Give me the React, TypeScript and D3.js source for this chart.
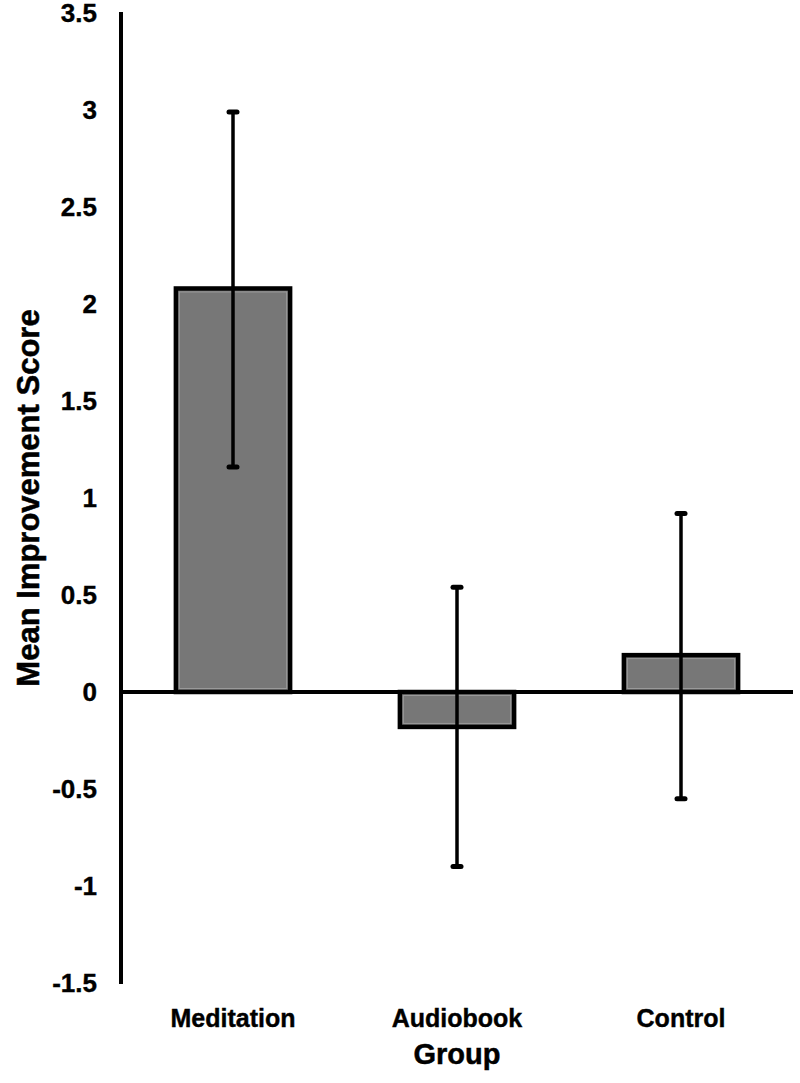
import React, { useEffect, useRef } from "react";
import * as d3 from "d3";

const groups = ["Meditation", "Audiobook", "Control"];
const means = [2.08, -0.18, 0.19];
const errTop = [2.99, 0.54, 0.92];
const errBottom = [1.16, -0.9, -0.55];
const yTicks = [3.5, 3, 2.5, 2, 1.5, 1, 0.5, 0, -0.5, -1, -1.5];

const App = () => {
  const chartRef = useRef<SVGSVGElement | null>(null);

  useEffect(() => {
    const width = 800;
    const height = 1083;
    const font = "'Liberation Sans', Arial, sans-serif";

    const svg = d3.select(chartRef.current);
    svg.selectAll("*").remove();

    // scales
    const x = d3
      .scaleBand()
      .domain(groups)
      .range([121, 793])
      .paddingInner(0.49)
      .paddingOuter(0.245);

    const y = d3.scaleLinear().domain([-1.5, 3.5]).range([983, 13]);

    // y axis line
    svg
      .append("line")
      .attr("x1", 121)
      .attr("x2", 121)
      .attr("y1", y(3.5) - 1)
      .attr("y2", y(-1.5) + 1)
      .attr("stroke", "#000")
      .attr("stroke-width", 4);

    // tick labels
    svg
      .append("g")
      .selectAll("text")
      .data(yTicks)
      .join("text")
      .attr("x", 97)
      .attr("y", (d) => y(d))
      .attr("dy", "0.36em")
      .attr("text-anchor", "end")
      .attr("font-family", font)
      .attr("font-weight", "bold")
      .attr("font-size", 26)
      .attr("stroke", "#000")
      .attr("stroke-width", 0.4)
      .text((d) => String(d));

    const data = groups.map((g, i) => ({
      g,
      v: means[i],
      hi: errTop[i],
      lo: errBottom[i],
    }));

    // bars
    svg
      .append("g")
      .selectAll("rect")
      .data(data)
      .join("rect")
      .attr("x", (d) => x(d.g)!)
      .attr("y", (d) => y(Math.max(0, d.v)))
      .attr("width", x.bandwidth())
      .attr("height", (d) => Math.abs(y(d.v) - y(0)))
      .attr("fill", "#777")
      .attr("stroke", "#000")
      .attr("stroke-width", 4.5);

    // inner light edge
    svg
      .append("g")
      .selectAll("rect")
      .data(data)
      .join("rect")
      .attr("x", (d) => x(d.g)! + 3.5)
      .attr("y", (d) => y(Math.max(0, d.v)) + 3.5)
      .attr("width", x.bandwidth() - 7)
      .attr("height", (d) => Math.max(0, Math.abs(y(d.v) - y(0)) - 7))
      .attr("fill", "none")
      .attr("stroke", "#9a9a9a")
      .attr("stroke-width", 1);

    // zero line
    svg
      .append("line")
      .attr("x1", 121)
      .attr("x2", 793)
      .attr("y1", y(0))
      .attr("y2", y(0))
      .attr("stroke", "#000")
      .attr("stroke-width", 4);

    // error bars
    const err = svg.append("g");
    err
      .selectAll("line.stem")
      .data(data)
      .join("line")
      .attr("class", "stem")
      .attr("x1", (d) => x(d.g)! + x.bandwidth() / 2)
      .attr("x2", (d) => x(d.g)! + x.bandwidth() / 2)
      .attr("y1", (d) => y(d.hi))
      .attr("y2", (d) => y(d.lo))
      .attr("stroke", "#000")
      .attr("stroke-width", 3.5);

    const caps = data.flatMap((d) => [
      { g: d.g, v: d.hi },
      { g: d.g, v: d.lo },
    ]);
    err
      .selectAll("line.cap")
      .data(caps)
      .join("line")
      .attr("class", "cap")
      .attr("x1", (d) => x(d.g)! + x.bandwidth() / 2 - 4)
      .attr("x2", (d) => x(d.g)! + x.bandwidth() / 2 + 4)
      .attr("y1", (d) => y(d.v))
      .attr("y2", (d) => y(d.v))
      .attr("stroke", "#000")
      .attr("stroke-width", 5)
      .attr("stroke-linecap", "round");

    // category labels
    svg
      .append("g")
      .selectAll("text")
      .data(groups)
      .join("text")
      .attr("x", (d) => x(d)! + x.bandwidth() / 2)
      .attr("y", 1027)
      .attr("text-anchor", "middle")
      .attr("font-family", font)
      .attr("font-weight", "bold")
      .attr("font-size", 25)
      .attr("stroke", "#000")
      .attr("stroke-width", 0.4)
      .text((d) => d);

    // axis titles
    svg
      .append("text")
      .attr("x", 457)
      .attr("y", 1064)
      .attr("text-anchor", "middle")
      .attr("font-family", font)
      .attr("font-weight", "bold")
      .attr("font-size", 29)
      .attr("stroke", "#000")
      .attr("stroke-width", 0.5)
      .text("Group");

    svg
      .append("text")
      .attr("transform", `translate(39,${498}) rotate(-90)`)
      .attr("text-anchor", "middle")
      .attr("font-family", font)
      .attr("font-weight", "bold")
      .attr("font-size", 31)
      .attr("stroke", "#000")
      .attr("stroke-width", 0.5)
      .text("Mean Improvement Score");

    svg.attr("width", width).attr("height", height);
  }, []);

  return (
    <svg
      ref={chartRef}
      style={{ position: "absolute", left: 0, top: 0, background: "#fff" }}
    />
  );
};

export default App;
